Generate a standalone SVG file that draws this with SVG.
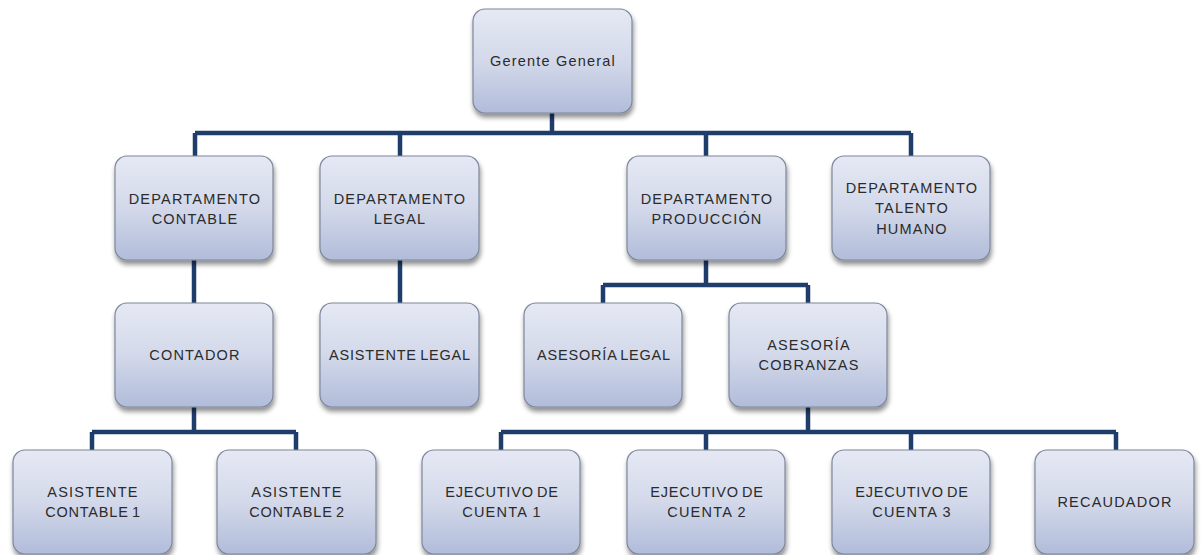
<svg xmlns="http://www.w3.org/2000/svg" width="1203" height="555" viewBox="0 0 1203 555">
<defs>
<linearGradient id="g" x1="0" y1="0" x2="0" y2="1">
<stop offset="0" stop-color="#e6e9f4"/>
<stop offset="0.5" stop-color="#d3d9ea"/>
<stop offset="1" stop-color="#b1bcda"/>
</linearGradient>
<filter id="sh" x="-10%" y="-10%" width="125%" height="130%">
<feGaussianBlur in="SourceAlpha" stdDeviation="2.5"/>
<feOffset dx="1" dy="4" result="b"/>
<feComponentTransfer><feFuncA type="linear" slope="0.45"/></feComponentTransfer>
<feMerge><feMergeNode/><feMergeNode in="SourceGraphic"/></feMerge>
</filter>
</defs>
<style>
.box{fill:url(#g);stroke:#7d879b;stroke-width:1.2;filter:url(#sh)}
.t{font-family:"Liberation Sans",Arial,sans-serif;font-size:14.5px;letter-spacing:1.2px;fill:#2b2b2b;text-anchor:middle}
.tight{letter-spacing:0.8px;word-spacing:-1.5px}
.c{fill:none;stroke:#1f3d6b;stroke-width:4.5;stroke-linejoin:miter}
</style>
<rect width="1203" height="555" fill="#ffffff"/>
<g id="connectors">
<path class="c" d="M552,113 V133 M195,133 H911 M195,133 V156 M400,133 V156 M706,133 V156 M911,133 V156"/>
<path class="c" d="M194,260 V303"/>
<path class="c" d="M400,260 V303"/>
<path class="c" d="M706,260 V285 M603,285 H808 M603,285 V303 M808,285 V303"/>
<path class="c" d="M194,407 V432 M92,432 H296 M92,432 V450 M296,432 V450"/>
<path class="c" d="M808,407 V432 M501,432 H1116 M501,432 V450 M706,432 V450 M911,432 V450 M1116,432 V450"/>
</g>
<g id="n_gerente"><rect class="box" x="473" y="9" width="159" height="104" rx="12"/><text class="t" x="553" y="66">Gerente General</text></g>
<g id="n_contable"><rect class="box" x="115" y="156" width="158" height="104" rx="12"/><text class="t" x="195" y="204">DEPARTAMENTO</text><text class="t" x="195" y="224">CONTABLE</text></g>
<g id="n_legal"><rect class="box" x="320" y="156" width="159" height="104" rx="12"/><text class="t" x="400" y="204">DEPARTAMENTO</text><text class="t" x="400" y="224">LEGAL</text></g>
<g id="n_produccion"><rect class="box" x="627" y="156" width="159" height="104" rx="12"/><text class="t" x="707" y="204">DEPARTAMENTO</text><text class="t" x="707" y="224">PRODUCCIÓN</text></g>
<g id="n_talento"><rect class="box" x="832" y="156" width="158" height="104" rx="12"/><text class="t" x="912" y="193">DEPARTAMENTO</text><text class="t" x="912" y="213">TALENTO</text><text class="t" x="912" y="234">HUMANO</text></g>
<g id="n_contador"><rect class="box" x="115" y="303" width="158" height="104" rx="12"/><text class="t" x="195" y="360">CONTADOR</text></g>
<g id="n_asistente_legal"><rect class="box" x="320" y="303" width="159" height="104" rx="12"/><text class="t tight" x="400" y="360">ASISTENTE LEGAL</text></g>
<g id="n_asesoria_legal"><rect class="box" x="524" y="303" width="158" height="104" rx="12"/><text class="t tight" x="604" y="360">ASESORÍA LEGAL</text></g>
<g id="n_cobranzas"><rect class="box" x="729" y="303" width="158" height="104" rx="12"/><text class="t" x="809" y="350">ASESORÍA</text><text class="t" x="809" y="370">COBRANZAS</text></g>
<g id="n_asist1"><rect class="box" x="13" y="450" width="159" height="104" rx="12"/><text class="t" x="93" y="497">ASISTENTE</text><text class="t tight" x="93" y="517">CONTABLE 1</text></g>
<g id="n_asist2"><rect class="box" x="217" y="450" width="159" height="104" rx="12"/><text class="t" x="297" y="497">ASISTENTE</text><text class="t tight" x="297" y="517">CONTABLE 2</text></g>
<g id="n_ej1"><rect class="box" x="422" y="450" width="158" height="104" rx="12"/><text class="t tight" x="502" y="497">EJECUTIVO DE</text><text class="t" x="502" y="517">CUENTA 1</text></g>
<g id="n_ej2"><rect class="box" x="627" y="450" width="158" height="104" rx="12"/><text class="t tight" x="707" y="497">EJECUTIVO DE</text><text class="t" x="707" y="517">CUENTA 2</text></g>
<g id="n_ej3"><rect class="box" x="832" y="450" width="158" height="104" rx="12"/><text class="t tight" x="912" y="497">EJECUTIVO DE</text><text class="t" x="912" y="517">CUENTA 3</text></g>
<g id="n_recaudador"><rect class="box" x="1035" y="450" width="159" height="104" rx="12"/><text class="t" x="1115" y="507">RECAUDADOR</text></g>
</svg>
